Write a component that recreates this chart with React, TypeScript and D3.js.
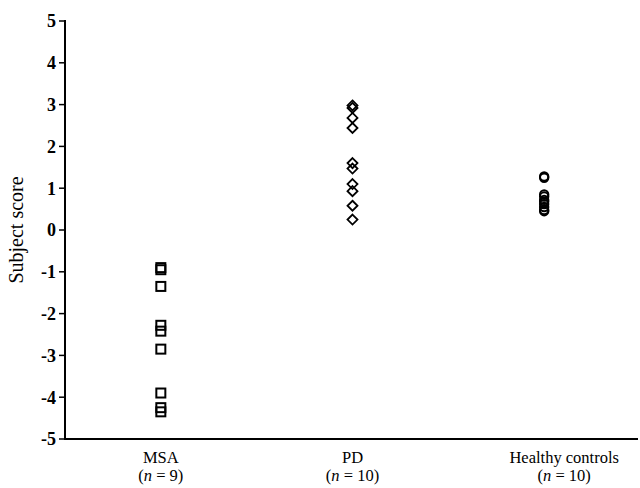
import * as d3 from 'd3';

// groups along the x axis
const groups = ['MSA', 'PD', 'Healthy controls'];
const groupN = [9, 10, 10];

// subject scores
const msaScores = [-0.9, -0.95, -1.35, -2.28, -2.42, -2.85, -3.9, -4.25, -4.35];
const pdScores = [2.98, 2.92, 2.68, 2.44, 1.6, 1.47, 1.1, 0.93, 0.58, 0.25];
const controlScores = [1.28, 1.25, 0.85, 0.8, 0.72, 0.68, 0.62, 0.55, 0.48, 0.45];

const yTicks = [5, 4, 3, 2, 1, 0, -1, -2, -3, -4, -5];

export default function App() {
  const width = 640;
  const height = 488;
  const marginLeft = 65;
  const marginTop = 21;
  const axisBottom = 439;

  const x = d3.scalePoint<string>()
    .domain(groups)
    .range([marginLeft, width])
    .padding(0.5);

  const y = d3.scaleLinear()
    .domain([-5, 5])
    .range([axisBottom, marginTop]);

  const serif = "'Liberation Serif', 'Times New Roman', Times, serif";
  const labelShift = [0, 0, 20];

  const sq = 9;
  const dia = 5;

  return (
    <svg width={width} height={height} style={{ position: 'absolute', left: 0, top: 0, background: '#fff' }}>
      {/* y axis */}
      <line x1={marginLeft} x2={marginLeft} y1={y(5) - 1} y2={axisBottom + 1} stroke="#000" strokeWidth={2} />
      {yTicks.map(t => (
        <g key={t} transform={`translate(${marginLeft},${y(t)})`}>
          <line x1={-6} x2={0} stroke="#000" strokeWidth={1.5} />
          <text x={-9} dy="0.35em" textAnchor="end" style={{ fontFamily: serif, fontWeight: 'bold', fontSize: '18px' }}>
            {String(t)}
          </text>
        </g>
      ))}
      {/* x axis */}
      <line x1={marginLeft - 1} x2={width - 2} y1={axisBottom} y2={axisBottom} stroke="#000" strokeWidth={2} />

      <text
        transform={`translate(23,${y(0)}) rotate(-90)`}
        textAnchor="middle"
        style={{ fontFamily: serif, fontSize: '20px' }}
      >
        Subject score
      </text>

      {groups.map((g, i) => (
        <text key={g} x={(x(g) ?? 0) + labelShift[i]} y={463} textAnchor="middle" style={{ fontFamily: serif, fontSize: '16.5px' }}>
          <tspan x={(x(g) ?? 0) + labelShift[i]}>{g}</tspan>
          <tspan x={(x(g) ?? 0) + labelShift[i]} dy={18}>
            (<tspan fontStyle="italic">n</tspan> = {groupN[i]})
          </tspan>
        </text>
      ))}

      {msaScores.map((v, i) => (
        <rect
          key={'m' + i}
          x={(x('MSA') ?? 0) - sq / 2}
          y={y(v) - sq / 2}
          width={sq}
          height={sq}
          fill="none"
          stroke="#000"
          strokeWidth={2}
        />
      ))}

      {pdScores.map((v, i) => {
        const cx = x('PD') ?? 0;
        const cy = y(v);
        return (
          <polygon
            key={'p' + i}
            points={`${cx},${cy - dia} ${cx + dia},${cy} ${cx},${cy + dia} ${cx - dia},${cy}`}
            fill="none"
            stroke="#000"
            strokeWidth={1.8}
          />
        );
      })}

      {controlScores.map((v, i) => (
        <circle
          key={'c' + i}
          cx={x('Healthy controls') ?? 0}
          cy={y(v)}
          r={4.2}
          fill="none"
          stroke="#000"
          strokeWidth={2}
        />
      ))}
    </svg>
  );
}
